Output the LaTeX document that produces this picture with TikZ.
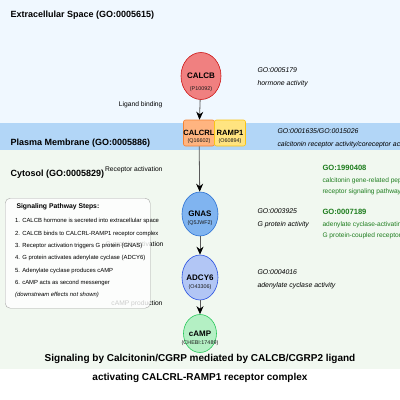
\documentclass[tikz,border=0pt]{standalone}
\usepackage{fontspec}
\setmainfont{Liberation Sans}
\usetikzlibrary{shapes.geometric, arrows.meta}

\definecolor{extrabg}{RGB}{240,248,255}
\definecolor{membg}{RGB}{178,214,247}
\definecolor{cytobg}{RGB}{241,248,240}
\definecolor{calcbfill}{RGB}{240,128,128}
\definecolor{calcbdraw}{RGB}{204,20,20}
\definecolor{calcrlfill}{RGB}{255,180,128}
\definecolor{calcrldraw}{RGB}{245,130,50}
\definecolor{rampfill}{RGB}{255,228,128}
\definecolor{rampdraw}{RGB}{250,195,20}
\definecolor{gnasfill}{RGB}{128,180,240}
\definecolor{gnasdraw}{RGB}{40,110,210}
\definecolor{adcyfill}{RGB}{178,198,245}
\definecolor{adcydraw}{RGB}{40,80,225}
\definecolor{campfill}{RGB}{180,240,196}
\definecolor{campdraw}{RGB}{40,200,90}
\definecolor{gogreen}{RGB}{30,125,30}

\begin{document}
\begin{tikzpicture}[
        x=1pt, y=-1pt,
        % Style for the compartment headings
        complabel/.style={anchor=west, font=\fontsize{9}{10}\selectfont\bfseries},
        % Style for the proteins and the small molecule
        protein/.style={ellipse, semithick, minimum width=36pt, minimum height=44pt, inner xsep=-6pt, inner ysep=0pt,
            font=\fontsize{8}{9}\selectfont\bfseries},
        % Style for the receptor complex parts
        recbox/.style={rectangle, rounded corners=2pt, semithick, minimum width=31pt, minimum height=26pt, inner xsep=-4pt, inner ysep=0pt,
            font=\fontsize{7.6}{9}\selectfont\bfseries},
        % Style for the identifiers under the names
        idtext/.style={font=\fontsize{5.4}{6}\selectfont, text=black!90},
        % Style for the reaction arrows
        flow/.style={draw=black!65, thick, -{Stealth[black, length=8pt, width=7pt]}},
        steplabel/.style={anchor=east, font=\fontsize{6.7}{7}\selectfont},
        goterm/.style={anchor=west, align=left, font=\fontsize{6.9}{13}\selectfont\itshape},
        gobp/.style={anchor=west, align=left, text=gogreen, font=\fontsize{6.6}{11.5}\selectfont},
        gohead/.style={anchor=west, text=gogreen, font=\fontsize{7.6}{9}\selectfont\bfseries}
    ]
    \useasboundingbox (0,0) rectangle (400,400);

        % --- Compartments ---
        \fill[extrabg] (0,0) rectangle (400,123);
        \fill[membg] (0,123) rectangle (400,150);
        \fill[cytobg] (0,150) rectangle (400,369);
        \node[complabel] (extra) at (7,15) {Extracellular Space (GO:0005615)};
        \node[complabel] (memb) at (7,143) {Plasma Membrane (GO:0005886)};
        \node[complabel] (cyto) at (7,174) {Cytosol (GO:0005829)};

        % --- Molecules ---
        \node[protein, draw=calcbdraw, fill=calcbfill, minimum width=40pt, minimum height=47pt, yshift=-1pt,
            label={[idtext, yshift=-13pt]center:(P10092)}] (calcb) at (201,75) {CALCB};
        \node[recbox, draw=calcrldraw, fill=calcrlfill, yshift=2pt,
            label={[idtext, yshift=-8pt]center:(Q16602)}] (calcrl) at (199,135) {CALCRL};
        \node[recbox, draw=rampdraw, fill=rampfill, yshift=2pt,
            label={[idtext, yshift=-8pt]center:(O60894)}] (ramp1) at (230,135) {RAMP1};
        \node[protein, draw=gnasdraw, fill=gnasfill,
            label={[idtext, yshift=-9.5pt]center:(Q5JWF2)}] (gnas) at (200,214) {GNAS};
        \node[protein, draw=adcydraw, fill=adcyfill, minimum height=45pt,
            label={[idtext, yshift=-9.5pt]center:(O43306)}] (adcy6) at (200,277.5) {ADCY6};
        \node[protein, draw=campdraw, fill=campfill, minimum width=33pt, minimum height=38pt, yshift=-2pt,
            label={[idtext, yshift=-10pt]center:(CHEBI:17489)}] (camp) at (200,331.5) {cAMP};

        % --- Reactions ---
        \draw[flow] (calcb) -- (calcrl);
        \draw[flow] (calcrl) -- (gnas);
        \draw[flow] (gnas) -- (adcy6);
        \draw[flow] (adcy6) -- (camp);
        \node[steplabel] (bind) at (166,105) {Ligand binding};
        \node[steplabel] (recact) at (166,170) {Receptor activation};
        \node[steplabel] (gpact) at (167,245) {G protein activation};
        \node[steplabel] (prod) at (166,304) {cAMP production};

        % --- GO annotations ---
        \node[goterm] (go1) at (254,77.5) {GO:0005179\\hormone activity};
        \node[goterm] (go2) at (274,138.5) {GO:0001635/GO:0015026\\calcitonin receptor activity/coreceptor activity};
        \node[goterm] (go3) at (254,218.5) {GO:0003925\\G protein activity};
        \node[goterm] (go4) at (254,279.5) {GO:0004016\\adenylate cyclase activity};
        \node[gohead] (bp1) at (319,168) {GO:1990408};
        \node[gobp] (bp1txt) at (319,186.5) {calcitonin gene-related peptide\\receptor signaling pathway};
        \node[gohead] (bp2) at (319,212) {GO:0007189};
        \node[gobp] (bp2txt) at (319,230.5) {adenylate cyclase-activating\\G protein-coupled receptor signaling pathway};

        % --- Legend ---
        \node[draw=black!35, fill=white, fill opacity=0.8, rounded corners=5pt, anchor=north west,
            minimum width=145pt, minimum height=110pt] (legend) at (5,198) {};
        \node[anchor=west, font=\fontsize{6.8}{7}\selectfont\bfseries] (steps) at (13,207) {Signaling Pathway Steps:};
        \node[anchor=north west, align=left, inner sep=0pt, font=\fontsize{5.9}{12.3}\selectfont] (steplist) at (15,218.5) {%
            1. CALCB hormone is secreted into extracellular space\\
            2. CALCB binds to CALCRL-RAMP1 receptor complex\\
            3. Receptor activation triggers G protein (GNAS)\\
            4. G protein activates adenylate cyclase (ADCY6)\\
            5. Adenylate cyclase produces cAMP\\
            6. cAMP acts as second messenger\\
            \itshape (downstream effects not shown)};

        % --- Title ---
        \node[font=\fontsize{10}{11}\selectfont\bfseries] (title1) at (200,359)
            {Signaling by Calcitonin/CGRP mediated by CALCB/CGRP2 ligand};
        \node[font=\fontsize{10}{11}\selectfont\bfseries] (title2) at (200,378)
            {activating CALCRL-RAMP1 receptor complex};
    \end{tikzpicture}
\end{document}
